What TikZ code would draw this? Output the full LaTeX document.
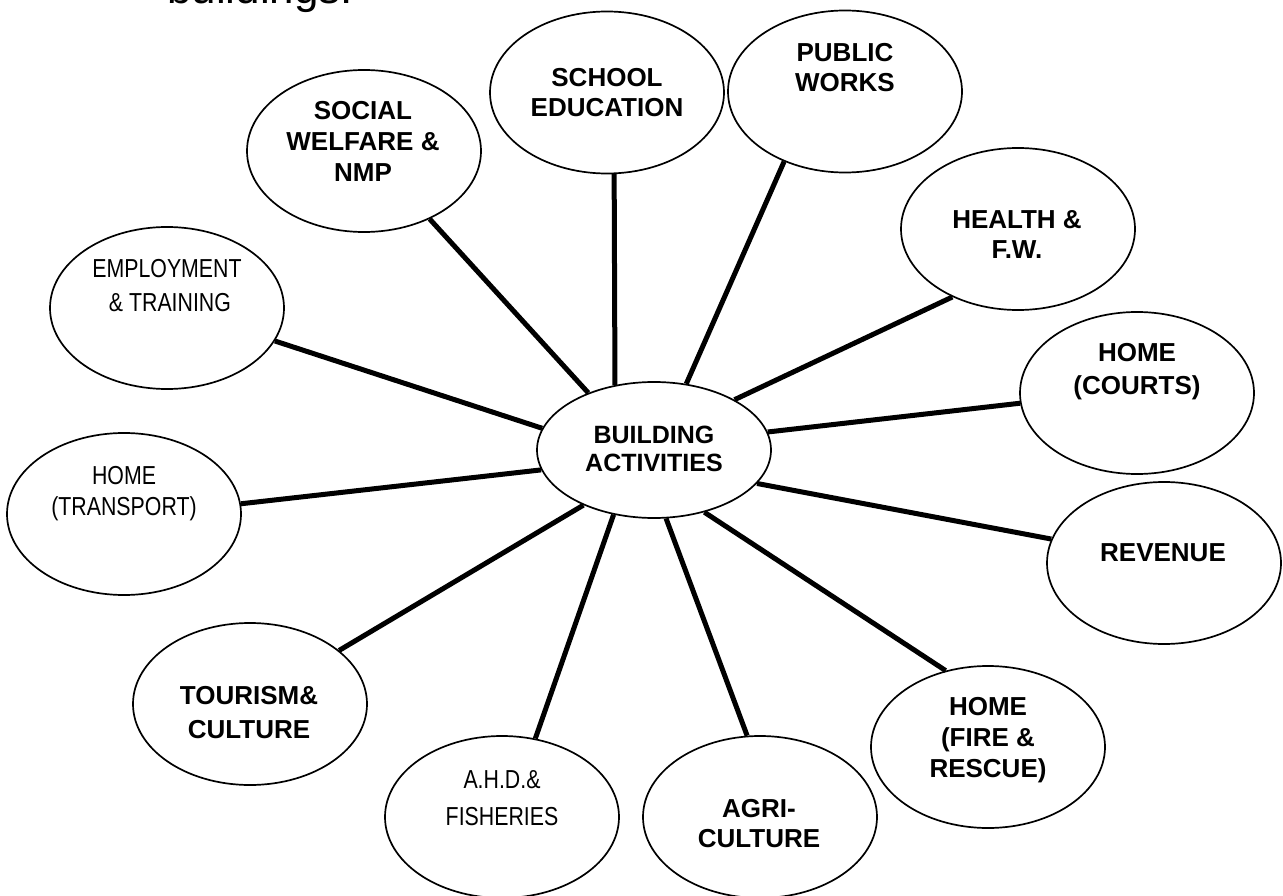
\documentclass[tikz,border=0pt]{standalone}
\usepackage{fontspec}
\setmainfont{Liberation Sans}
\newfontfamily\narrowfont[FakeStretch=0.82]{Liberation Sans}
\usetikzlibrary{shapes.geometric}
\begin{document}
\begin{tikzpicture}[x=1pt,y=-1pt,
  sat/.style={draw, ellipse, line width=1.7pt, minimum width=234pt, minimum height=162pt, inner sep=0pt},
  hub/.style={sat, minimum height=136pt},
  lbl/.style={align=center, font=\fontsize{26}{#1}\selectfont\bfseries, text depth=0pt, inner sep=0pt},
  lbl/.default=31,
  nlbl/.style={align=center, font=\fontsize{26}{#1}\selectfont\narrowfont, text depth=0pt, inner sep=0pt},
  nlbl/.default=31,
  hublbl/.style={align=center, font=\fontsize{25}{28}\selectfont\bfseries, text depth=0pt, inner sep=0pt},
  link/.style={line width=5pt}]
\fill[white] (0,0) rectangle (1283,896);
\useasboundingbox (0,0) rectangle (1283,896);

\node[anchor=base west, inner sep=0pt, font=\fontsize{44}{50}\selectfont] (topline) at (167,4) {buildings.};

\node[sat] (social) at (364,151) {};
\node[sat] (school) at (607,92.5) {};
\node[sat] (public) at (845,91.5) {};
\node[sat] (health) at (1018,229) {};
\node[sat] (courts) at (1137,393) {};
\node[sat] (revenue) at (1164,563) {};
\node[sat] (fire) at (988,747) {};
\node[sat] (agri) at (760,817) {};
\node[sat] (ahd) at (502,817) {};
\node[sat] (tourism) at (250,704) {};
\node[sat] (transport) at (124,514) {};
\node[sat] (employ) at (167,308) {};
\node[hub] (hub) at (654,450) {};

\node[lbl] (socialT) at (363,141) {SOCIAL\\WELFARE \&\\NMP};
\node[lbl=30] (schoolT) at (607,92) {SCHOOL\\EDUCATION};
\node[lbl=30] (publicT) at (845,67) {PUBLIC\\WORKS};
\node[lbl=30] (healthT) at (1017,235) {HEALTH \&\\F.W.};
\node[lbl=33] (courtsT) at (1137,368.5) {HOME\\(COURTS)};
\node[lbl] (revenueT) at (1163,553) {REVENUE};
\node[lbl] (fireT) at (988,737) {HOME\\(FIRE \&\\RESCUE)};
\node[lbl=30] (agriT) at (759,823) {AGRI-\\CULTURE};
\node[nlbl=37] (ahdT) at (502,798.5) {A.H.D.\&\\FISHERIES};
\node[lbl=34] (tourismT) at (249,712) {TOURISM\&\\CULTURE};
\node[nlbl=31] (transportT) at (124,490.5) {HOME\\(TRANSPORT)};
\node[nlbl=34] (employT) at (167,285) {EMPLOYMENT\\\ \& TRAINING};
\node[hublbl] (hubT) at (654,449) {BUILDING\\ACTIVITIES};

\draw[link] (social.-46.3) -- (hub.139.2);
\draw[link] (school.-85.2) -- (hub.121.3);
\draw[link] (public.-131.9) -- (hub.64.5);
\draw[link] (health.-134.6) -- (hub.32.5);
\draw[link] (courts.185.9) -- (hub.9.3);
\draw[link] (revenue.168.1) -- (hub.-18.1);
\draw[link] (fire.119.4) -- (hub.-51.2);
\draw[link] (agri.99.5) -- (hub.-80.4);
\draw[link] (ahd.67.3) -- (hub.-122.1);
\draw[link] (tourism.31.8) -- (hub.-142.1);
\draw[link] (transport.5.4) -- (hub.-170.2);
\draw[link] (employ.-17.6) -- (hub.169.1);
\end{tikzpicture}
\end{document}
